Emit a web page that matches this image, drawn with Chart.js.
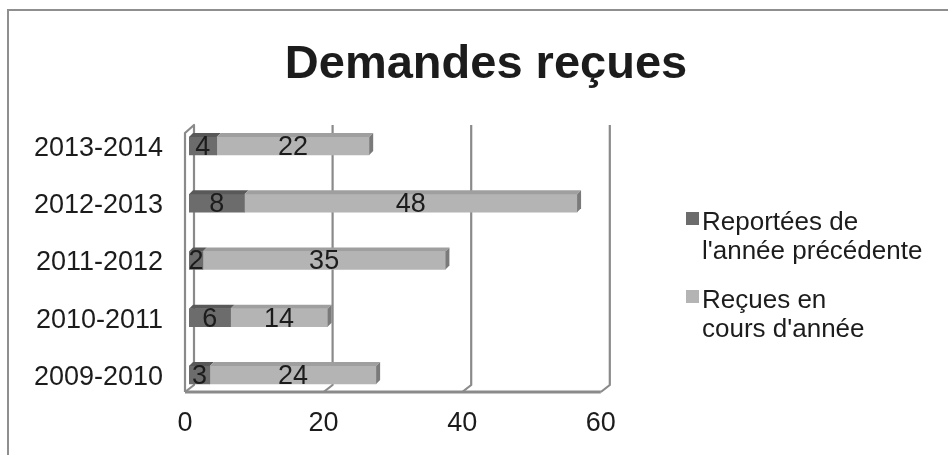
<!DOCTYPE html>
<html lang="fr">
<head>
<meta charset="utf-8">
<title>Demandes reçues</title>
<script src="https://cdn.jsdelivr.net/npm/chart.js@4/dist/chart.umd.min.js"></script>
<style>
  html, body { margin: 0; padding: 0; background: #ffffff; }
  #wrap { width: 948px; height: 455px; position: relative; }
</style>
</head>
<body>
<div id="wrap"><canvas id="chart" width="948" height="455"></canvas></div>
<script>
// Years, top to bottom
const categories = ['2013-2014', '2012-2013', '2011-2012', '2010-2011', '2009-2010'];
// Requests carried over from the previous year
const reportees = [4, 8, 2, 6, 3];
// Requests received during the year
const recues = [22, 48, 35, 14, 24];
// Legend text, one entry per line
const legendReportees = ['Reportées de', "l'année précédente"];
const legendRecues = ['Reçues en', "cours d'année"];
const titleText = 'Demandes reçues';
const xTicks = [0, 20, 40, 60];

const FONT = '"Liberation Sans", Arial, Helvetica, sans-serif';
const TEXT = '#1c1c1c';
const LINE = '#8a8a8a';
const DEPTH = 4; // depth of the bars' top and end faces

const faceColors = [
  { front: '#6c6c6c', top: '#595959', side: '#505050' },
  { front: '#b4b4b4', top: '#9f9f9f', side: '#7a7a7a' }
];

// Frame, title and legend
const decorPlugin = {
  id: 'decor',
  beforeDraw(chart) {
    const ctx = chart.ctx;
    ctx.save();
    ctx.fillStyle = '#ffffff';
    ctx.fillRect(0, 0, chart.width, chart.height);
    ctx.strokeStyle = '#8f8f8f';
    ctx.lineWidth = 2;
    ctx.strokeRect(8, 10, chart.width + 20, chart.height + 20);

    ctx.fillStyle = TEXT;
    ctx.font = 'bold 47px ' + FONT;
    ctx.textAlign = 'center';
    ctx.textBaseline = 'alphabetic';
    ctx.fillText(titleText, 486, 78);

    const items = [
      { lines: legendReportees, color: faceColors[0].front, y: 211 },
      { lines: legendRecues, color: faceColors[1].front, y: 289 }
    ];
    ctx.font = '26px ' + FONT;
    ctx.textAlign = 'left';
    items.forEach(it => {
      ctx.fillStyle = it.color;
      ctx.fillRect(686, it.y + 1, 13, 13);
      ctx.fillStyle = TEXT;
      it.lines.forEach((ln, i) => ctx.fillText(ln, 702, it.y + 19 + i * 29));
    });
    ctx.restore();
  }
};

// Side wall, floor edge and back grid lines of the 3-D frame
const wallsPlugin = {
  id: 'walls',
  beforeDatasetsDraw(chart) {
    const { ctx, chartArea: ca, scales: { x } } = chart;
    const front = v => x.getPixelForValue(v) - 4;
    const back = v => x.getPixelForValue(v) + 5;
    const yBackTop = ca.top + 7.6;
    const yFrontTop = yBackTop + 8;
    const yBackBot = ca.bottom - 18.6;
    const yFrontBot = yBackBot + 7;
    ctx.save();
    ctx.strokeStyle = LINE;
    ctx.lineWidth = 2.2;
    ctx.lineJoin = 'round';

    // left wall
    ctx.beginPath();
    ctx.moveTo(front(0), yFrontBot);
    ctx.lineTo(front(0), yFrontTop);
    ctx.lineTo(back(0), yBackTop);
    ctx.lineTo(back(0), yBackBot);
    ctx.lineTo(front(0), yFrontBot);
    ctx.stroke();

    // floor front edge
    const maxV = xTicks[xTicks.length - 1];
    ctx.lineWidth = 3;
    ctx.beginPath();
    ctx.moveTo(front(0), yFrontBot);
    ctx.lineTo(front(maxV), yFrontBot);
    ctx.stroke();

    // back grid lines, each folding down to the floor front edge
    ctx.lineWidth = 2.2;
    xTicks.slice(1).forEach(v => {
      ctx.beginPath();
      ctx.moveTo(back(v), yBackTop);
      ctx.lineTo(back(v), yBackBot);
      ctx.lineTo(front(v), yFrontBot);
      ctx.stroke();
    });
    ctx.restore();
  }
};

// Top and end faces of the bars, then the value labels
const barFacesPlugin = {
  id: 'barFaces',
  afterDatasetsDraw(chart) {
    const ctx = chart.ctx;
    const d = DEPTH;
    ctx.save();
    const last = chart.data.datasets.length - 1;
    chart.data.datasets.forEach((ds, di) => {
      const meta = chart.getDatasetMeta(di);
      meta.data.forEach(bar => {
        const p = bar.getProps(['x', 'y', 'base', 'height'], true);
        const x0 = Math.min(p.base, p.x), x1 = Math.max(p.base, p.x);
        const yt = p.y - p.height / 2, yb = p.y + p.height / 2;
        ctx.fillStyle = faceColors[di].top;
        ctx.beginPath();
        ctx.moveTo(x0, yt);
        ctx.lineTo(x1, yt);
        ctx.lineTo(x1 + d, yt - d);
        ctx.lineTo(x0 + d, yt - d);
        ctx.closePath();
        ctx.fill();
        if (di === last) {
          ctx.fillStyle = faceColors[di].side;
          ctx.beginPath();
          ctx.moveTo(x1, yt);
          ctx.lineTo(x1 + d, yt - d);
          ctx.lineTo(x1 + d, yb - d);
          ctx.lineTo(x1, yb);
          ctx.closePath();
          ctx.fill();
        }
      });
    });

    ctx.fillStyle = TEXT;
    ctx.font = '27px ' + FONT;
    ctx.textAlign = 'center';
    ctx.textBaseline = 'middle';
    chart.data.datasets.forEach((ds, di) => {
      const meta = chart.getDatasetMeta(di);
      meta.data.forEach((bar, i) => {
        const p = bar.getProps(['x', 'y', 'base'], true);
        ctx.fillText(String(ds.data[i]), (p.x + p.base) / 2, p.y + 1.5);
      });
    });
    ctx.restore();
  }
};

new Chart(document.getElementById('chart'), {
  type: 'bar',
  data: {
    labels: categories,
    datasets: [
      { label: legendReportees.join(' '), data: reportees, backgroundColor: faceColors[0].front, borderWidth: 0, barThickness: 18 },
      { label: legendRecues.join(' '), data: recues, backgroundColor: faceColors[1].front, borderWidth: 0, barThickness: 18 }
    ]
  },
  options: {
    indexAxis: 'y',
    responsive: false,
    animation: false,
    layout: { padding: { left: 0, right: 343.2, top: 117.4, bottom: 11.4 } },
    plugins: {
      legend: { display: false },
      title: { display: false },
      tooltip: { enabled: false }
    },
    scales: {
      x: {
        stacked: true,
        min: 0,
        max: 60,
        afterBuildTicks(scale) { scale.ticks = xTicks.map(v => ({ value: v })); },
        afterFit(scale) { scale.height = 40; },
        grid: { display: false, drawTicks: false },
        border: { display: false },
        ticks: { font: { family: FONT, size: 27 }, color: TEXT, padding: 4, labelOffset: -4, maxRotation: 0 }
      },
      y: {
        stacked: true,
        afterFit(scale) { scale.width = 189; },
        grid: { display: false, drawTicks: false },
        border: { display: false },
        ticks: { font: { family: FONT, size: 27 }, color: TEXT, padding: 26, labelOffset: 2.5 }
      }
    }
  },
  plugins: [decorPlugin, wallsPlugin, barFacesPlugin]
});
</script>
</body>
</html>
